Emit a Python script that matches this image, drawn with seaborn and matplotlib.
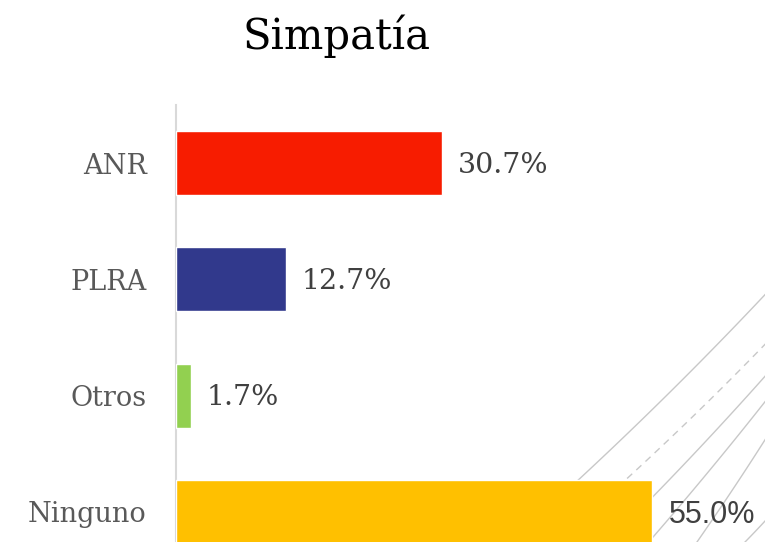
import matplotlib
matplotlib.use("Agg")
import matplotlib.pyplot as plt
import seaborn as sns
import numpy as np
import pandas as pd
from matplotlib.lines import Line2D

categories = ["ANR", "PLRA", "Otros", "Ninguno"]
values = [30.7, 12.7, 1.7, 55.0]
labels = ["30.7%", "12.7%", "1.7%", "55.0%"]
colors = ["#F71C00", "#31398C", "#92D050", "#FFC000"]
title = "Simpatía"

sns.set_theme(style="white")
plt.rcParams["font.family"] = ["DejaVu Serif"]

W, H = 765, 542
fig = plt.figure(figsize=(W / 100, H / 100), dpi=100)
fig.patch.set_facecolor("white")

# decorative background arcs (slide decoration)
def arc(p0, p1, bend, **kw):
    t = np.linspace(0, 1, 60)
    p0 = np.array(p0, float); p1 = np.array(p1, float)
    mid = (p0 + p1) / 2
    d = p1 - p0
    n = np.array([d[1], -d[0]]) / np.hypot(*d)
    c = mid + n * bend
    pts = ((1 - t)[:, None] ** 2) * p0 + (2 * (1 - t) * t)[:, None] * c + (t[:, None] ** 2) * p1
    fig.add_artist(Line2D(pts[:, 0] / W, 1 - pts[:, 1] / H, transform=fig.transFigure,
                          color="#c8c8c8", lw=1.0, zorder=0, **kw))

arc((540, 515), (775, 284), -7)
arc((590, 512), (775, 334), -5, linestyle=(0, (5, 4)))
arc((610, 540), (775, 365), -4)
arc((640, 552), (775, 389), -3)
arc((690, 552), (775, 424), -2)
arc((735, 552), (775, 510), -1)

ax = fig.add_axes([176 / W, 1 - 570 / H, 1 - 176 / W, (570 - 105) / H])
ax.patch.set_alpha(0)

df = pd.DataFrame({"cat": categories, "val": values})
sns.barplot(data=df, y="cat", x="val", hue="cat", palette=colors, orient="h",
            width=0.55, saturation=1, legend=False, ax=ax, zorder=3)

ax.set_xlim(0, (W - 176) / 8.65)
ax.set_ylim(3.5, -0.5)
ax.set_xlabel("")
ax.set_ylabel("")
ax.set_xticks([])
for s in ["top", "right", "bottom"]:
    ax.spines[s].set_visible(False)
ax.spines["left"].set_color("#d9d9d9")
ax.spines["left"].set_linewidth(1.5)
ax.tick_params(axis="y", length=0, pad=21, labelsize=19.5, labelcolor="#595959")

for i, (v, lab) in enumerate(zip(values, labels)):
    if i == 3:
        ax.text(v + 2.0, i + 0.03, lab, va="center", ha="left", fontsize=22,
                color="#404040", family=["Liberation Sans"])
    else:
        ax.text(v + 1.85, i + 0.02, lab, va="center", ha="left", fontsize=20.5,
                color="#404040")

fig.text(337 / W, 1 - 36 / H, title, ha="center", va="center", fontsize=30, color="black")

fig.savefig("out.png", dpi=100)
